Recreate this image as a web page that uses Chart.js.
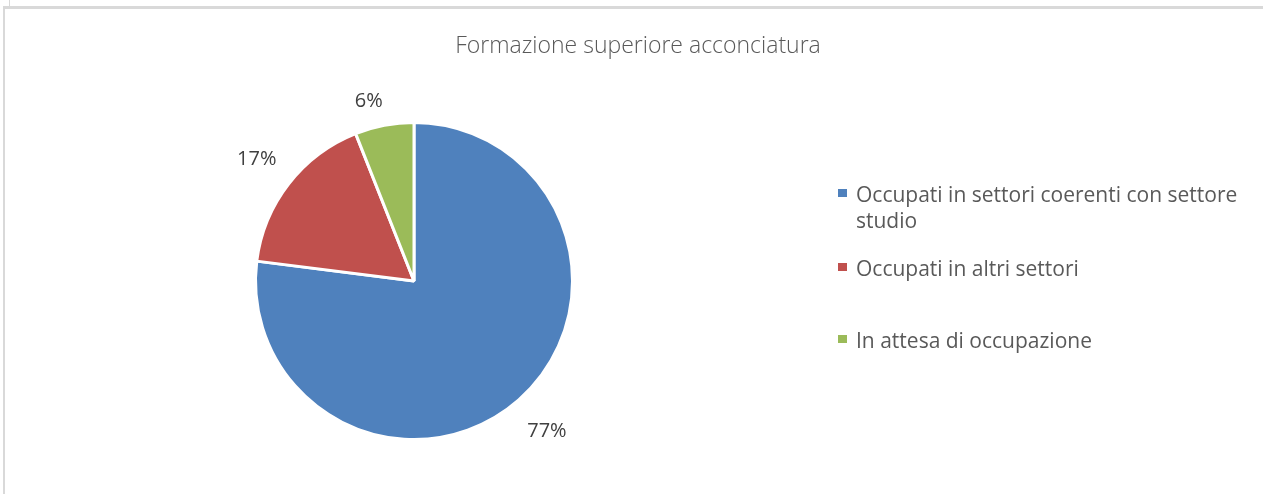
<!DOCTYPE html>
<html>
<head>
<meta charset="utf-8">
<script src="https://cdn.jsdelivr.net/npm/chart.js@4.4.0/dist/chart.umd.min.js"></script>
<style>
  body { margin: 0; background: #fff; }
  #wrap { position: relative; width: 1263px; height: 494px; overflow: hidden; }
  #frame { position: absolute; left: 3px; top: 6px; width: 1262px; height: 500px;
           border-top: 3px solid #d9d9d9; border-left: 2px solid #d9d9d9; }
  #tick { position: absolute; left: 9px; top: 0; width: 1px; height: 6px; background: #d9d9d9; }
  canvas { position: absolute; left: 0; top: 0; }
  #title { position: absolute; left: 338px; width: 600px; top: 29px; text-align: center;
           font-family: "Open Sans", sans-serif; font-size: 23px; font-weight: 300;
           line-height: 30px; color: #595959; white-space: nowrap; }
  #legend { position: absolute; left: 838px; top: 181px; font-family: "Open Sans", sans-serif;
            font-size: 21px; color: #595959; }
  .item { position: absolute; left: 0; width: 420px; line-height: 26px; }
  .item .box { position: absolute; left: 0; top: 8px; width: 9px; height: 8px; }
  .item .txt { position: absolute; left: 18px; width: 400px; white-space: nowrap; }
</style>
</head>
<body>
<div id="wrap">
  <div id="frame"></div>
  <div id="tick"></div>
  <canvas id="pieChart" width="1263" height="494"></canvas>
  <div id="title"></div>
  <div id="legend"></div>
</div>
<script>
const title = "Formazione superiore acconciatura";
const categories = [
  ["Occupati in settori coerenti con settore", "studio"],
  ["Occupati in altri settori"],
  ["In attesa di occupazione"]
];
const values = [77, 17, 6];
const colors = ["#4f81bd", "#c0504d", "#9bbb59"];

document.getElementById('title').textContent = title;

// legend drawn as html so the first label can wrap
const legendTops = [0, 74, 146];
const legend = document.getElementById('legend');
categories.forEach((lines, i) => {
  const item = document.createElement('div');
  item.className = 'item';
  item.style.top = legendTops[i] + 'px';
  item.innerHTML = '<span class="box" style="background:' + colors[i] + '"></span>' +
    '<span class="txt">' + lines.join('<br>') + '</span>';
  legend.appendChild(item);
});

// percent labels outside the slices (distance from centre, small sideways nudge)
const labelDist = [201, 199, 183];
const labelNudge = [0, 0, -11];
const outsideLabels = {
  id: 'outsideLabels',
  afterDatasetsDraw(chart) {
    const ctx = chart.ctx;
    const meta = chart.getDatasetMeta(0);
    const total = values.reduce((a, b) => a + b, 0);
    ctx.save();
    ctx.font = '20px "Open Sans", sans-serif';
    ctx.fillStyle = '#404040';
    ctx.textAlign = 'center';
    ctx.textBaseline = 'middle';
    meta.data.forEach((arc, i) => {
      const mid = (arc.startAngle + arc.endAngle) / 2;
      const x = arc.x + Math.cos(mid) * labelDist[i] + labelNudge[i];
      const y = arc.y + Math.sin(mid) * labelDist[i];
      ctx.fillText(Math.round(values[i] / total * 100) + '%', x, y);
    });
    ctx.restore();
  }
};

const ctx = document.getElementById('pieChart').getContext('2d');
new Chart(ctx, {
  type: 'pie',
  data: {
    labels: categories.map(c => c.join(' ')),
    datasets: [{
      data: values,
      backgroundColor: colors,
      borderColor: '#ffffff',
      borderWidth: 3
    }]
  },
  options: {
    responsive: false,
    animation: false,
    layout: { padding: { left: 254, right: 689, top: 121, bottom: 53 } },
    plugins: {
      legend: { display: false },
      tooltip: { enabled: false },
      title: { display: false }
    }
  },
  plugins: [outsideLabels]
});
</script>
</body>
</html>
